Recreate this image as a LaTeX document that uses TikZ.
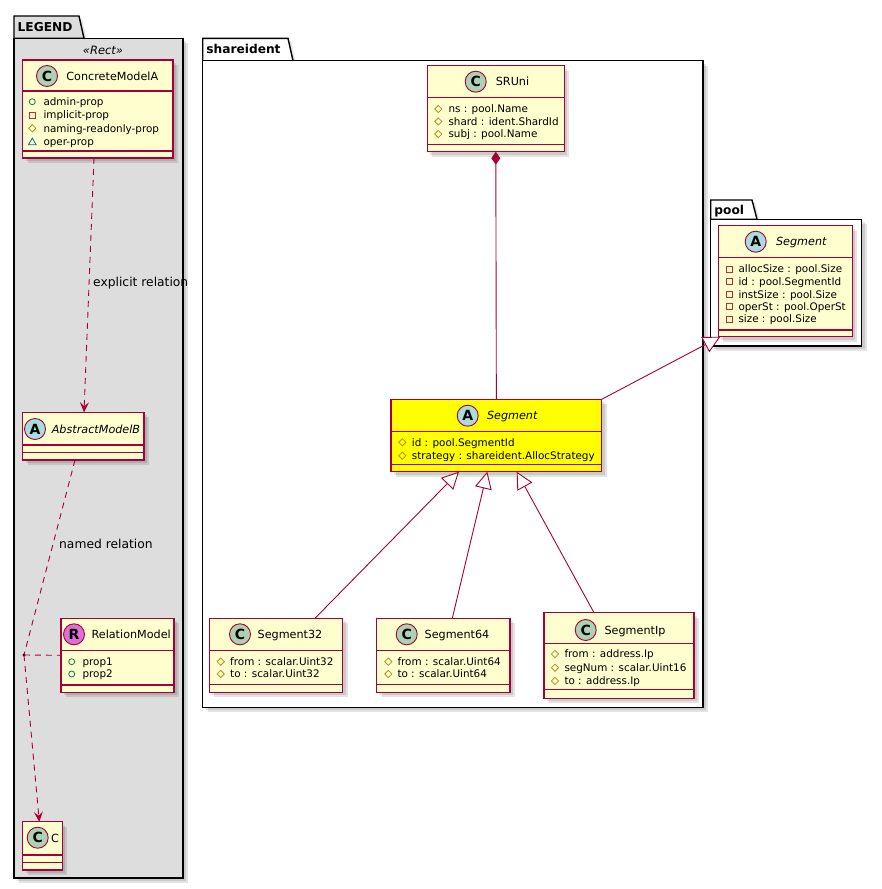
\documentclass[tikz,border=0pt]{standalone}
\usepackage{fontspec}
\setmainfont{DejaVu Sans}
\usetikzlibrary{arrows.meta,calc}
\definecolor{umlred}{HTML}{A80036}
\definecolor{umlfill}{HTML}{FEFECE}
\definecolor{cgreen}{HTML}{ADD1B2}
\definecolor{acyan}{HTML}{A9DCDF}
\definecolor{rpink}{HTML}{DA70D6}
\definecolor{pubc}{HTML}{038048}
\definecolor{privc}{HTML}{C82930}
\definecolor{protc}{HTML}{B38D22}
\definecolor{pkgc}{HTML}{1963A0}
\definecolor{legendgray}{HTML}{DDDDDD}
\definecolor{segyellow}{HTML}{FFFF00}
\tikzset{
  boxst/.style={draw=umlred, line width=1.2pt, inner sep=0pt, outer sep=0pt},
  sepline/.style={draw=umlred, line width=1.2pt},
  spotst/.style={circle, draw=umlred, line width=0.9pt, minimum size=21pt, inner sep=0pt,
    font=\fontsize{14}{14}\selectfont\bfseries},
  ttl/.style={inner sep=0pt, font=\fontsize{11.2}{13}\selectfont, text height=8pt, text depth=0pt},
  ittl/.style={inner sep=0pt, font=\fontsize{11.2}{13}\selectfont\itshape, text height=8pt, text depth=0pt},
  attr/.style={inner sep=0pt, anchor=west, font=\fontsize{10.4}{12}\selectfont, text height=7.4pt, text depth=0pt},
  pkgline/.style={draw=black, line width=1.4pt},
  pkglbl/.style={inner sep=0pt, anchor=west, font=\fontsize{12.2}{14}\selectfont\bfseries, text height=8.8pt, text depth=0pt},
  conn/.style={draw=umlred, line width=0.9pt},
  dep/.style={conn, dash pattern=on 6pt off 5pt},
  vtip/.style={-{Stealth[length=10pt, width=9pt, inset=4pt, umlred]}},
  comptip/.style={{Diamond[length=13pt, width=9pt, umlred, fill=umlred]}-},
  inhtip/.style={-{Triangle[length=17pt, width=17pt, fill=white]}},
  rellbl/.style={inner sep=0pt, anchor=west, font=\fontsize{12.3}{14}\selectfont, text height=8.8pt, text depth=0pt},
  stereo/.style={inner sep=0pt, font=\fontsize{11.5}{13}\selectfont\itshape, text height=8pt, text depth=0pt},
  shadowst/.style={fill=black, opacity=0.11},
  icon/.style={line width=0.8pt},
}
% shadow of a rectangle
\newcommand\shadowrect[4]{%
  \fill[shadowst] (#1+3,#2+3) rectangle (#3+3,#4+3);
  \fill[shadowst] (#1+5,#2+5) rectangle (#3+5,#4+5);}
% class box: name, x1, y1, x2, yheader, yattr, ybottom, fill
\newcommand\umlbox[8]{%
  \shadowrect{#2}{#3}{#4}{#7}
  \node[boxst, fill=#8, minimum width={#4-#2}, minimum height={#7-#3}, anchor=north west] (#1) at (#2,#3) {};
  \draw[sepline] (#2,#5) -- (#4,#5);
  \draw[sepline] (#2,#6) -- (#4,#6);}
% spot: name, x, y, fill, letter
\newcommand\spot[5]{\node[spotst, fill=#4] (#1) at (#2,#3) {#5};}
% icons
\newcommand\icprot[2]{\draw[icon, protc] (#1-3.6,#2) -- (#1,#2-3.6) -- (#1+3.6,#2) -- (#1,#2+3.6) -- cycle;}
\newcommand\icpub[2]{\draw[icon, pubc] (#1,#2) circle (3);}
\newcommand\icpriv[2]{\draw[icon, privc] (#1-3,#2-3) rectangle (#1+3,#2+3);}
\newcommand\icpkg[2]{\draw[icon, pkgc] (#1-3.8,#2+3) -- (#1+3.8,#2+3) -- (#1,#2-3.6) -- cycle;}
% attribute: name, icon macro, icon x, text x, y, text
\newcommand\attrline[6]{#2{#3}{#5}\node[attr] (#1) at (#4,#5) {#6};}
% package: x1, tabtop, tabright, tabbottom, x2, y2, fill, label, name
\newcommand\pkg[9]{%
  \fill[shadowst] (#1+3,#2+3) -- (#3+3,#2+3) -- (#3+8,#4+3) -- (#1+3,#4+3) -- cycle;
  \shadowrect{#1}{#4}{#5}{#6}
  \draw[pkgline, fill=#7] (#1,#4) -- (#1,#2) -- (#3,#2) -- (#3+5,#4) -- cycle;
  \draw[pkgline, fill=#7] (#1,#4) rectangle (#5,#6);
  \node[pkglbl] (#9) at (#1+3.5,{(#2+#4)/2}) {#8};}

\begin{document}
\begin{tikzpicture}[x=1pt,y=-1pt]
\useasboundingbox (0,0) rectangle (881,889);
\fill[white] (0,0) rectangle (881,889);

% ---------- packages ----------
\pkg{14}{16}{79}{38.3}{183}{878}{legendgray}{LEGEND}{pkgLegend}
\pkg{202.7}{38.3}{288}{60.7}{703}{707.3}{white}{shareident}{pkgShare}
\pkg{710.7}{200}{752}{219.3}{861.7}{346}{white}{pool}{pkgPool}

% ---------- LEGEND ----------
\node[stereo] (stRect) at (103,50) {«Rect»};

\umlbox{concrete}{22.7}{60}{173}{91}{151}{158}{umlfill}
\spot{spConcrete}{47}{76}{cgreen}{C}
\node[ttl] (tConcrete) at (112.3,76) {ConcreteModelA};
\attrline{ca1}{\icpub}{32.3}{43.3}{101.7}{admin-prop}
\attrline{ca2}{\icpriv}{32.3}{43.3}{115}{implicit-prop}
\attrline{ca3}{\icprot}{32.3}{43.3}{128.3}{naming-readonly-prop}
\attrline{ca4}{\icpkg}{32.3}{43.3}{141.7}{oper-prop}

\umlbox{abstract}{22.7}{412.3}{144}{445}{452.3}{460}{umlfill}
\spot{spAbstract}{35}{429}{acyan}{A}
\node[ittl] (tAbstract) at (96,429) {AbstractModelB};

\umlbox{relm}{61}{618.3}{174}{650.7}{685}{692.3}{umlfill}
\spot{spRel}{74}{634.3}{rpink}{R}
\node[ttl] (tRel) at (131.2,634.3) {RelationModel};
\attrline{ra1}{\icpub}{71.7}{82.3}{661.7}{prop1}
\attrline{ra2}{\icpub}{71.7}{82.3}{674}{prop2}

\umlbox{cbox}{22.7}{821.7}{62.3}{855}{862.3}{870}{umlfill}
\spot{spC}{37.7}{837.7}{cgreen}{C}
\node[ttl] (tC) at (55,838) {C};

\draw[dep, vtip] ([xshift=71.3pt]concrete.south west) -- ([xshift=61.3pt]abstract.north west);
\node[rellbl] (lExplicit) at (93,282) {explicit relation};
\node[circle, fill=black, inner sep=0pt, minimum size=3.2pt] (dot) at (24,655) {};
\draw[dep] ([xshift=52.3pt]abstract.south west) -- (dot.center);
\draw[dep] (dot.center) -- (relm.west);
\draw[dep, vtip] (dot.center) -- ([xshift=16.6pt]cbox.north west);
\node[rellbl] (lNamed) at (59,544) {named relation};

% ---------- shareident ----------
\umlbox{sruni}{427.3}{65.7}{564.3}{97.7}{144.3}{151.7}{umlfill}
\spot{spSruni}{475.7}{81.7}{cgreen}{C}
\node[ttl] (tSruni) at (512.5,81.7) {SRUni};
\attrline{sa1}{\icprot}{438.3}{448.3}{109}{ns : pool.Name}
\attrline{sa2}{\icprot}{438.3}{448.3}{121.5}{shard : ident.ShardId}
\attrline{sa3}{\icprot}{438.3}{448.3}{134}{subj : pool.Name}

\umlbox{segMain}{391}{399.3}{601.7}{431.7}{464.3}{471.7}{segyellow}
\spot{spSeg}{467.7}{415.7}{acyan}{A}
\node[ittl] (tSeg) at (512.2,415.7) {Segment};
\attrline{ma1}{\icprot}{402.3}{411.7}{442.3}{id : pool.SegmentId}
\attrline{ma2}{\icprot}{402.3}{411.7}{455.7}{strategy : shareident.AllocStrategy}

\umlbox{seg32}{209.3}{618.3}{342.7}{650.7}{684.3}{692.3}{umlfill}
\spot{sp32}{240}{634.3}{cgreen}{C}
\node[ttl] (t32) at (290,634.3) {Segment32};
\attrline{s32a}{\icprot}{220.7}{230}{661.7}{from : scalar.Uint32}
\attrline{s32b}{\icprot}{220.7}{230}{674}{to : scalar.Uint32}

\umlbox{seg64}{376.7}{618.3}{510}{650.7}{684.3}{692.3}{umlfill}
\spot{sp64}{406.7}{634.3}{cgreen}{C}
\node[ttl] (t64) at (457,634.3) {Segment64};
\attrline{s64a}{\icprot}{388.3}{397.3}{661.7}{from : scalar.Uint64}
\attrline{s64b}{\icprot}{388.3}{397.3}{674}{to : scalar.Uint64}

\umlbox{segIp}{544}{612.7}{694}{643.3}{689.3}{698.3}{umlfill}
\spot{spIp}{585.7}{630}{cgreen}{C}
\node[ttl] (tIp) at (635,630) {SegmentIp};
\attrline{sipa}{\icprot}{555}{564.3}{654}{from : address.Ip}
\attrline{sipb}{\icprot}{555}{564.3}{667.7}{segNum : scalar.Uint16}
\attrline{sipc}{\icprot}{555}{564.3}{681}{to : address.Ip}

% ---------- pool ----------
\umlbox{poolSeg}{718.3}{225.7}{852.3}{257.7}{330}{336.7}{umlfill}
\spot{spPool}{755.7}{241.7}{acyan}{A}
\node[ittl] (tPool) at (801.3,241.7) {Segment};
\attrline{pa1}{\icpriv}{729}{738.3}{269}{allocSize : pool.Size}
\attrline{pa2}{\icpriv}{729}{738.3}{281.5}{id : pool.SegmentId}
\attrline{pa3}{\icpriv}{729}{738.3}{294.3}{instSize : pool.Size}
\attrline{pa4}{\icpriv}{729}{738.3}{306.7}{operSt : pool.OperSt}
\attrline{pa5}{\icpriv}{729}{738.3}{319}{size : pool.Size}

% ---------- relations ----------
\draw[conn, comptip] (sruni.south) -- (segMain.north);
\draw[conn, inhtip] (segMain.north east) -- ([xshift=2pt]poolSeg.south west);
\draw[conn, inhtip] ([xshift=105.7pt]seg32.north west) -- ([xshift=68pt]segMain.south west);
\draw[conn, inhtip] ([xshift=75.6pt]seg64.north west) -- ([xshift=96.3pt]segMain.south west);
\draw[conn, inhtip] ([xshift=50pt]segIp.north west) -- ([xshift=125.7pt]segMain.south west);
\end{tikzpicture}
\end{document}
